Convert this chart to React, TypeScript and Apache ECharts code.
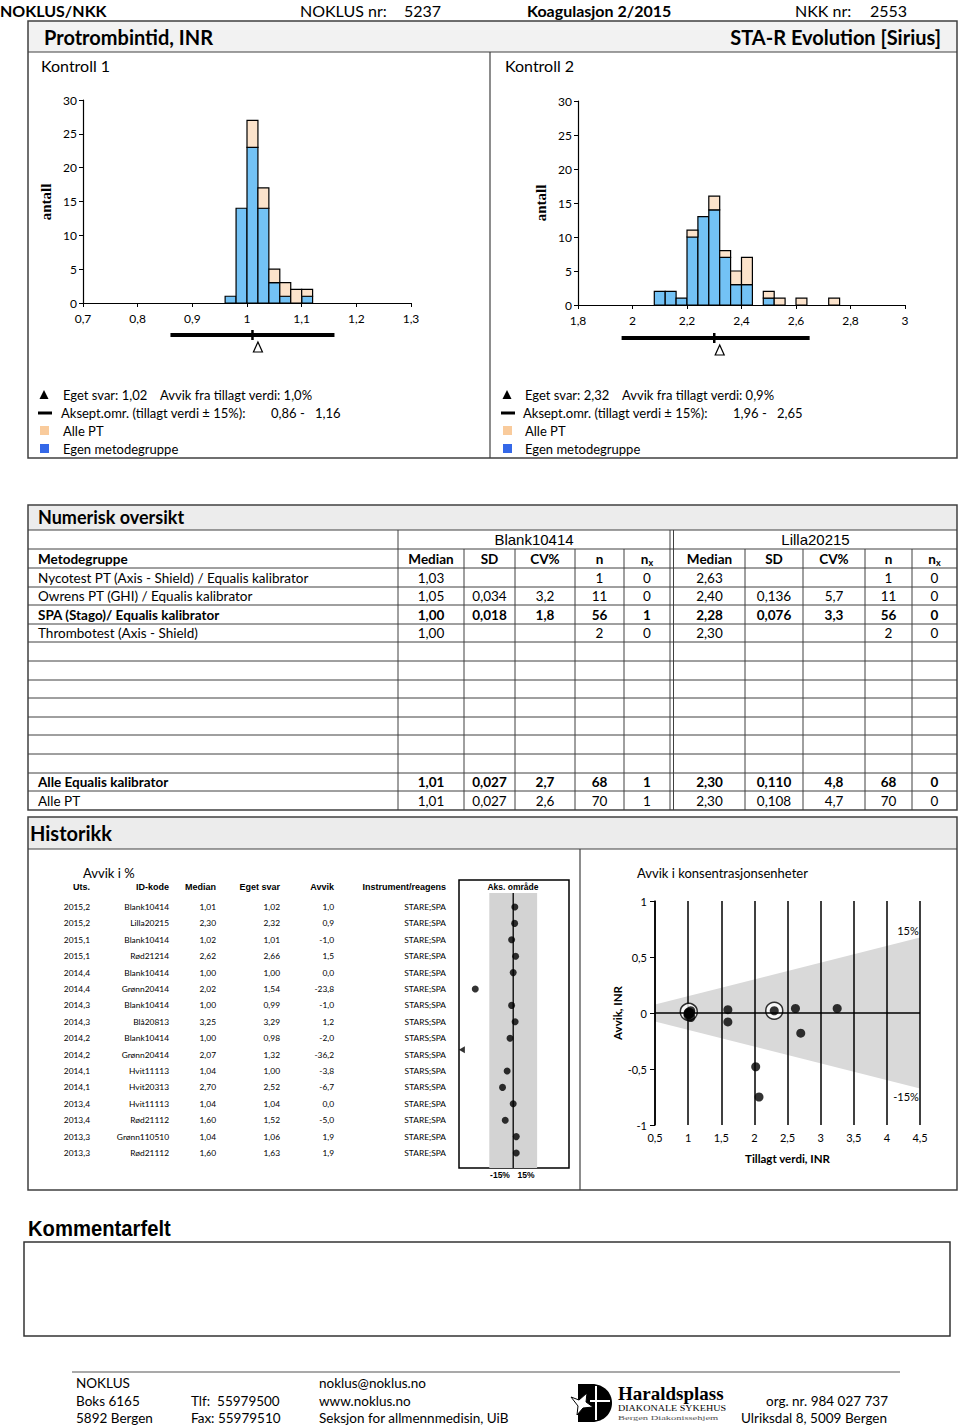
import React, { useEffect, useRef } from 'react';
import * as echarts from 'echarts';

const CAL = "Lato, 'Open Sans', sans-serif";
const ARIAL = "'Liberation Sans', Arial, sans-serif";
const SERIF = "'Liberation Serif', 'DejaVu Serif', serif";

// ---------- header ----------
const reportTitle = 'Protrombintid, INR';
const instrumentName = 'STA-R Evolution [Sirius]';
const controlNames = ['Kontroll 1', 'Kontroll 2'];

// ---------- histograms ----------
const hist1Start = [0.96, 0.98, 1.0, 1.02, 1.04, 1.06, 1.08, 1.1];
const hist1Width = 0.02;
const hist1Own = [1, 14, 23, 14, 3, 1, 0, 1];
const hist1All = [1, 14, 27, 17, 5, 3, 2, 2];
const hist2Start = [2.08, 2.12, 2.16, 2.2, 2.24, 2.28, 2.32, 2.36, 2.4, 2.48, 2.52, 2.6, 2.72];
const hist2Width = 0.04;
const hist2Own = [2, 2, 1, 10, 13, 14, 7, 3, 3, 1, 0, 0, 0];
const hist2All = [2, 2, 1, 11, 13, 16, 8, 5, 7, 2, 1, 1, 1];
const histXRange = [[0.7, 1.3, 0.1], [1.8, 3.0, 0.2]];
const ownResult = [1.02, 2.32];
const targetValue = [1.01, 2.3];
const accLow = [0.86, 1.96];
const accHigh = [1.16, 2.65];
const devPct = ['1,0', '0,9'];

// ---------- numeric table ----------
const materialNames = ['Blank10414', 'Lilla20215'];
const colHeaders = ['Median', 'SD', 'CV%', 'n', 'nx'];
const methodNames = [
  'Nycotest PT (Axis - Shield) / Equalis kalibrator',
  'Owrens PT (GHI) / Equalis kalibrator',
  'SPA (Stago)/ Equalis kalibrator',
  'Thrombotest (Axis - Shield)',
];
const methodBold = [false, false, true, false];
const k1Median = ['1,03', '1,05', '1,00', '1,00'];
const k1SD = ['', '0,034', '0,018', ''];
const k1CV = ['', '3,2', '1,8', ''];
const k1N = ['1', '11', '56', '2'];
const k1Nx = ['0', '0', '1', '0'];
const k2Median = ['2,63', '2,40', '2,28', '2,30'];
const k2SD = ['', '0,136', '0,076', ''];
const k2CV = ['', '5,7', '3,3', ''];
const k2N = ['1', '11', '56', '2'];
const k2Nx = ['0', '0', '0', '0'];
const summaryNames = ['Alle Equalis kalibrator', 'Alle PT'];
const summaryBold = [true, false];
const summaryValues = [
  ['1,01', '0,027', '2,7', '68', '1', '2,30', '0,110', '4,8', '68', '0'],
  ['1,01', '0,027', '2,6', '70', '1', '2,30', '0,108', '4,7', '70', '0'],
];

// ---------- history ----------
const histHeaders = ['Uts.', 'ID-kode', 'Median', 'Eget svar', 'Avvik', 'Instrument/reagens'];
const hUts = ['2015,2', '2015,2', '2015,1', '2015,1', '2014,4', '2014,4', '2014,3', '2014,3', '2014,2', '2014,2', '2014,1', '2014,1', '2013,4', '2013,4', '2013,3', '2013,3'];
const hId = ['Blank10414', 'Lilla20215', 'Blank10414', 'Rød21214', 'Blank10414', 'Grønn20414', 'Blank10414', 'Blå20813', 'Blank10414', 'Grønn20414', 'Hvit11113', 'Hvit20313', 'Hvit11113', 'Rød21112', 'Grønn110510', 'Rød21112'];
const hMedian = [1.01, 2.3, 1.02, 2.62, 1.0, 2.02, 1.0, 3.25, 1.0, 2.07, 1.04, 2.7, 1.04, 1.6, 1.04, 1.6];
const hOwn = [1.02, 2.32, 1.01, 2.66, 1.0, 1.54, 0.99, 3.29, 0.98, 1.32, 1.0, 2.52, 1.04, 1.52, 1.06, 1.63];
const hDev = [1.0, 0.9, -1.0, 1.5, 0.0, -23.8, -1.0, 1.2, -2.0, -36.2, -3.8, -6.7, 0.0, -5.0, 1.9, 1.9];
const hInstr = ['STARE;SPA', 'STARE;SPA', 'STARE;SPA', 'STARE;SPA', 'STARE;SPA', 'STARE;SPA', 'STARS;SPA', 'STARS;SPA', 'STARS;SPA', 'STARS;SPA', 'STARS;SPA', 'STARS;SPA', 'STARE;SPA', 'STARE;SPA', 'STARE;SPA', 'STARE;SPA'];
const currentRound = '2015,2';
const accPct = 15;

// ---------- footer ----------
const footerCol1 = ['NOKLUS', 'Boks 6165', '5892 Bergen'];
const footerCol2 = ['', 'Tlf:  55979500', 'Fax: 55979510'];
const footerCol3 = ['noklus@noklus.no', 'www.noklus.no', 'Seksjon for allmennmedisin, UiB'];
const footerCol4 = ['', 'org. nr. 984 027 737', 'Ulriksdal 8, 5009 Bergen'];

// ---------- styling ----------
const BLUE = '#73C2F5';
const BEIGE = '#FCE3CB';
const BORDER = '#404040';

echarts.graphic.registerShape(
  'hlogo',
  echarts.graphic.extendPath('M0 0 H14 C26 0 34 9 34 19 C34 29 26 38 14 38 H0 Z', {}) as any
);

const comma = (v: number) => String(Math.round(v * 100) / 100).replace('.', ',');
const fmt2 = (v: number) => v.toFixed(2).replace('.', ',');

function buildOption() {
  const G: any[] = [];
  const T = (x: number, y: number, text: string, size: number, o: any = {}) =>
    G.push({
      type: 'text',
      x,
      y,
      rotation: o.rotation || 0,
      scaleX: o.scaleX || 1,
      silent: true,
      z: 20,
      style: {
        text,
        fill: o.color || '#000',
        fontSize: size,
        fontFamily: o.family || CAL,
        fontWeight: o.bold ? 'bold' : 'normal',
        textAlign: o.align || 'left',
        textVerticalAlign: 'middle',
        rich: o.rich,
      },
    });
  const L = (x1: number, y1: number, x2: number, y2: number, w = 1, c = BORDER, z = 15) =>
    G.push({ type: 'line', silent: true, z, shape: { x1, y1, x2, y2 }, style: { stroke: c, lineWidth: w } });
  const R = (x: number, y: number, w: number, h: number, fill: any, stroke: any = null, lw = 0) =>
    G.push({ type: 'rect', silent: true, z: fill ? 1 : 15, shape: { x, y, width: w, height: h }, style: { fill: fill || 'none', stroke: stroke || 'none', lineWidth: lw } });

  // ---- top header row ----
  T(0, 10, 'NOKLUS/NKK', 16, { bold: true });
  T(300, 10, 'NOKLUS nr:', 16);
  T(404, 10, '5237', 16);
  T(527, 10, 'Koagulasjon 2/2015', 16, { bold: true });
  T(795, 10, 'NKK nr:', 16);
  T(870, 10, '2553', 16);

  // ---- main panel ----
  R(28, 21, 929, 31, '#f2f2f2');
  R(28, 21, 929, 437, null, BORDER, 1.5);
  L(28, 52, 957, 52, 1.2);
  L(490, 52, 490, 458, 1.2);
  T(44, 37, reportTitle, 20, { bold: true });
  T(941, 37, instrumentName, 20, { bold: true, align: 'right' });
  T(41, 65, controlNames[0], 16);
  T(505, 65, controlNames[1], 16);
  T(46, 202, 'antall', 15, { bold: true, family: SERIF, rotation: Math.PI / 2, align: 'center' });
  T(541, 203, 'antall', 15, { bold: true, family: SERIF, rotation: Math.PI / 2, align: 'center' });

  // legends
  [0, 1].forEach((k) => {
    const mx = k === 0 ? 44 : 507;
    const tx = k === 0 ? 63 : 525;
    G.push({ type: 'polygon', silent: true, z: 20, shape: { points: [[mx, 390], [mx - 4.5, 399], [mx + 4.5, 399]] }, style: { fill: '#000' } });
    R(mx - 6, 411.5, 14, 3, '#000');
    R(mx - 4, 426, 9, 9, '#F9CB9C');
    R(mx - 4, 444, 9, 9, '#3468E8');
    T(tx, 395, 'Eget svar: ' + fmt2(ownResult[k]), 13);
    T(tx + 97, 395, 'Avvik fra tillagt verdi: ' + devPct[k] + '%', 13);
    T(tx - 2, 413, 'Aksept.omr. (tillagt verdi ± ' + accPct + '%):', 13);
    T(tx + 208, 413, fmt2(accLow[k]) + ' -', 13);
    T(tx + 252, 413, fmt2(accHigh[k]), 13);
    T(tx, 431, 'Alle PT', 13);
    T(tx, 449, 'Egen metodegruppe', 13);
  });

  // ---- numeric overview ----
  R(28, 505, 929, 25, '#ececec');
  R(28, 505, 929, 305, null, BORDER, 1.5);
  T(38, 517, 'Numerisk oversikt', 18, { bold: true });
  const rowLines = [530, 549, 568, 587, 605, 624, 642, 661, 680, 698, 717, 735, 754, 773, 791];
  rowLines.forEach((y) => L(28, y, 957, y, 1));
  const cells = [
    [398, 464], [464, 515], [515, 575], [575, 624], [624, 670],
    [674, 745], [745, 803], [803, 865], [865, 912], [912, 957],
  ];
  [398, 670, 673.5].forEach((x) => L(x, 530, x, 810, 1));
  [464, 515, 575, 624, 745, 803, 865, 912].forEach((x) => L(x, 549, x, 810, 1));
  const mid = (i: number) => (rowLines[i] + (rowLines[i + 1] || 810)) / 2;
  T((398 + 670) / 2, mid(0), materialNames[0], 15, { align: 'center', family: ARIAL });
  T((674 + 957) / 2, mid(0), materialNames[1], 15, { align: 'center', family: ARIAL });
  T(38, mid(1), 'Metodegruppe', 13.5, { bold: true });
  cells.forEach((c, j) => {
    const h = colHeaders[j % 5];
    if (h === 'nx') {
      T((c[0] + c[1]) / 2, mid(1), '{a|n}{b|x}', 13.5, {
        align: 'center',
        rich: { a: { fontSize: 13.5, fontWeight: 'bold', fontFamily: CAL }, b: { fontSize: 9, fontWeight: 'bold', fontFamily: CAL, padding: [7, 0, 0, 0] } },
      });
    } else {
      T((c[0] + c[1]) / 2, mid(1), h, 13.5, { bold: true, align: 'center' });
    }
  });
  methodNames.forEach((name, i) => {
    const y = mid(2 + i);
    const b = methodBold[i];
    T(38, y, name, 13.5, { bold: b });
    const vals = [k1Median[i], k1SD[i], k1CV[i], k1N[i], k1Nx[i], k2Median[i], k2SD[i], k2CV[i], k2N[i], k2Nx[i]];
    vals.forEach((v, j) => T((cells[j][0] + cells[j][1]) / 2, y, v, 13.5, { bold: b, align: 'center' }));
  });
  summaryNames.forEach((name, i) => {
    const y = mid(13 + i);
    const b = summaryBold[i];
    T(38, y, name, 13.5, { bold: b });
    summaryValues[i].forEach((v, j) => T((cells[j][0] + cells[j][1]) / 2, y, v, 13.5, { bold: b, align: 'center' }));
  });

  // ---- history ----
  R(28, 817, 929, 32, '#ececec');
  R(28, 817, 929, 373, null, BORDER, 1.5);
  L(28, 849, 957, 849, 1.2);
  L(580, 849, 580, 1190, 1.2);
  T(30, 833, 'Historikk', 20, { bold: true });
  T(83, 873, 'Avvik i %', 13);
  T(637, 873, 'Avvik i konsentrasjonsenheter', 13);
  const hx = [90, 169, 216, 280, 334, 446];
  histHeaders.forEach((h, j) => T(hx[j], 887, h, 9, { bold: true, family: ARIAL, align: 'right' }));
  const rowY0 = 907;
  const rowStep = 16.4;
  hUts.forEach((u, i) => {
    const y = rowY0 + i * rowStep;
    const vals = [u, hId[i], fmt2(hMedian[i]), fmt2(hOwn[i]), hDev[i].toFixed(1).replace('.', ','), hInstr[i]];
    vals.forEach((v, j) => T(hx[j], y, v, 8.4, { align: 'right' }));
  });
  T(513, 887, 'Aks. område', 8.5, { bold: true, family: ARIAL, align: 'center' });
  T(500, 1175, '-' + accPct + '%', 8.5, { bold: true, family: ARIAL, align: 'center' });
  T(526, 1175, accPct + '%', 8.5, { bold: true, family: ARIAL, align: 'center' });
  T(908, 930, accPct + '%', 11, { align: 'center' });
  T(906, 1096, '-' + accPct + '%', 11, { align: 'center' });

  // ---- comment ----
  T(28, 1228, 'Kommentarfelt', 22, { bold: true, family: ARIAL, scaleX: 0.92 });
  R(24, 1242, 926, 94, null, '#333', 1.5);

  // ---- footer ----
  L(72, 1372, 900, 1372, 1.2, '#555');
  const fy = [1383, 1401, 1418];
  footerCol1.forEach((t, i) => T(76, fy[i], t, 13.5));
  footerCol2.forEach((t, i) => t && T(191, fy[i], t, 13.5));
  footerCol3.forEach((t, i) => T(319, fy[i], t, 13.5));
  footerCol4.forEach((t, i) => t && T(i === 1 ? 766 : 741, fy[i], t, 13.5));
  G.push({ type: 'hlogo', x: 578, y: 1384, silent: true, z: 20, style: { fill: '#000' } });
  L(596, 1386, 596, 1420, 2, '#fff', 21);
  L(590, 1401, 610, 1401, 2, '#fff', 21);
  G.push({
    type: 'polygon', silent: true, z: 22,
    shape: { points: [[571, 1397], [579, 1400], [587, 1393], [586, 1402], [593, 1407], [583, 1408], [577, 1415], [578, 1406]] },
    style: { fill: '#fff', stroke: '#000', lineWidth: 1 },
  });
  T(618, 1393, 'Haraldsplass', 19, { bold: true, family: SERIF });
  T(618, 1408, 'DIAKONALE SYKEHUS', 8, { family: SERIF, scaleX: 1.26 });
  T(618, 1418, 'Bergen Diakonissehjem', 7, { family: SERIF, color: '#555', scaleX: 1.5 });

  // ---------- chart series ----------
  const barRender = (fill: string) => (params: any, api: any) => {
    const x0 = api.value(0), x1 = api.value(1), lo = api.value(2), hi = api.value(3);
    if (!(hi > lo)) return { type: 'group', children: [] };
    const a = api.coord([x0, lo]);
    const b = api.coord([x1, hi]);
    return {
      type: 'rect',
      shape: { x: a[0], y: b[1], width: b[0] - a[0], height: a[1] - b[1] },
      style: { fill, stroke: '#000', lineWidth: 1.2 },
    };
  };
  const accRender = (off: number) => (params: any, api: any) => {
    const lo = api.coord([api.value(0), 0]);
    const hi = api.coord([api.value(1), 0]);
    const tg = api.coord([api.value(2), 0]);
    const ow = api.coord([api.value(3), 0]);
    const y = lo[1] + off;
    return {
      type: 'group',
      children: [
        { type: 'line', shape: { x1: lo[0], y1: y, x2: hi[0], y2: y }, style: { stroke: '#000', lineWidth: 4 } },
        { type: 'line', shape: { x1: tg[0], y1: y - 5, x2: tg[0], y2: y + 5 }, style: { stroke: '#000', lineWidth: 2.5 } },
        { type: 'polygon', shape: { points: [[ow[0], y + 7], [ow[0] - 4.5, y + 17], [ow[0] + 4.5, y + 17]] }, style: { fill: '#fff', stroke: '#000', lineWidth: 1.2 } },
      ],
    };
  };
  const histSeries = (k: number, starts: number[], w: number, own: number[], all: number[], off: number) => [
    {
      type: 'custom', name: 'Egen metodegruppe', xAxisIndex: k, yAxisIndex: k, renderItem: barRender(BLUE),
      encode: { x: [0, 1], y: [2, 3] }, data: starts.map((s, i) => [s, s + w, 0, own[i]]),
    },
    {
      type: 'custom', name: 'Alle PT', xAxisIndex: k, yAxisIndex: k, renderItem: barRender(BEIGE),
      encode: { x: [0, 1], y: [2, 3] }, data: starts.map((s, i) => [s, s + w, own[i], all[i]]),
    },
    {
      type: 'custom', name: 'Aksept', xAxisIndex: k, yAxisIndex: k, clip: false, renderItem: accRender(off),
      encode: { x: [0, 1, 2, 3] }, data: [[accLow[k], accHigh[k], targetValue[k], ownResult[k]]],
    },
  ];

  const axisLbl = { color: '#000', fontSize: 12, fontFamily: CAL };
  const histX = (k: number) => ({
    gridIndex: k, type: 'value', min: histXRange[k][0], max: histXRange[k][1], interval: histXRange[k][2],
    axisLine: { show: true, onZero: false, lineStyle: { color: '#000', width: 1.2 } },
    axisTick: { show: true, length: 4, lineStyle: { color: '#000' } },
    axisLabel: { ...axisLbl, margin: 9, formatter: comma },
    splitLine: { show: false },
  });
  const histY = (k: number) => ({
    gridIndex: k, type: 'value', min: 0, max: 30, interval: 5,
    axisLine: { show: true, onZero: false, lineStyle: { color: '#000', width: 1.2 } },
    axisTick: { show: true, length: 4, lineStyle: { color: '#000' } },
    axisLabel: { ...axisLbl, margin: 6 },
    splitLine: { show: false },
  });

  // dot plot geometry
  const dotTop = 880, dotH = 288, bandTopPx = 893;
  const yMin = (dotTop - rowY0) / rowStep;
  const yMax = (dotTop + dotH - rowY0) / rowStep;
  const bandTop = (bandTopPx - rowY0) / rowStep;
  const devMin = -34, devMax = 35;

  const current = hUts.map((u, i) => (u === currentRound ? i : -1)).filter((i) => i >= 0);
  const scatterPts = hMedian.map((m, i) => [m, Math.round((hOwn[i] - m) * 100) / 100]);

  return {
    animation: false,
    backgroundColor: '#fff',
    graphic: { elements: G },
    grid: [
      { left: 83, top: 100, width: 328, height: 203 },
      { left: 578, top: 101, width: 327, height: 204 },
      { left: 459, top: dotTop, width: 110, height: dotH, show: true, borderColor: '#000', borderWidth: 1.5, backgroundColor: 'rgba(0,0,0,0)' },
      { left: 655, top: 901, width: 265, height: 224 },
    ],
    xAxis: [
      histX(0),
      histX(1),
      { gridIndex: 2, type: 'value', min: devMin, max: devMax, show: false },
      {
        gridIndex: 3, type: 'value', min: 0.5, max: 4.5, interval: 0.5,
        axisLine: { show: false, onZero: false }, axisTick: { show: false },
        splitLine: { show: true, lineStyle: { color: '#000', width: 1.5 } },
        axisLabel: { color: '#000', fontSize: 11, fontFamily: CAL, margin: 7, formatter: comma },
        name: 'Tillagt verdi, INR', nameLocation: 'middle', nameGap: 27,
        nameTextStyle: { color: '#000', fontWeight: 'bold', fontSize: 11.5, fontFamily: CAL },
      },
    ],
    yAxis: [
      histY(0),
      histY(1),
      { gridIndex: 2, type: 'value', min: yMin, max: yMax, inverse: true, show: false },
      {
        gridIndex: 3, type: 'value', min: -1, max: 1, interval: 0.5,
        axisLine: { show: true, onZero: false, lineStyle: { color: '#000', width: 1.5 } },
        axisTick: { show: true, length: 5, lineStyle: { color: '#000' } },
        splitLine: { show: false },
        axisLabel: { color: '#000', fontSize: 11, fontFamily: CAL, margin: 8, formatter: comma },
        name: 'Avvik, INR', nameLocation: 'middle', nameGap: 25, nameRotate: 90,
        nameTextStyle: { color: '#000', fontWeight: 'bold', fontSize: 11.5, fontFamily: CAL },
      },
    ],
    series: [
      ...histSeries(0, hist1Start, hist1Width, hist1Own, hist1All, 32),
      ...histSeries(1, hist2Start, hist2Width, hist2Own, hist2All, 33),
      {
        type: 'line', xAxisIndex: 2, yAxisIndex: 2, symbol: 'none', silent: true,
        data: [[0, bandTop], [0, yMax]], lineStyle: { color: '#000', width: 1.3 },
        markArea: { silent: true, itemStyle: { color: '#d3d3d3' }, data: [[{ coord: [-accPct, bandTop] }, { coord: [accPct, yMax] }]] },
      },
      {
        type: 'scatter', xAxisIndex: 2, yAxisIndex: 2, symbolSize: 7, itemStyle: { color: '#000' },
        data: hDev.map((v, i) =>
          v < devMin ? { value: [devMin + 1.8, i - 0.3], symbol: 'triangle', symbolRotate: 90, symbolSize: [7, 6] } : { value: [v, i] }
        ),
      },
      {
        type: 'custom', xAxisIndex: 3, yAxisIndex: 3, z: -1, silent: true,
        encode: { x: [0, 1] },
        data: [[0.5, 4.5, accPct / 100]],
        renderItem: (params: any, api: any) => {
          const x0 = api.value(0), x1 = api.value(1), p = api.value(2);
          return {
            type: 'polygon',
            shape: { points: [api.coord([x0, p * x0]), api.coord([x1, p * x1]), api.coord([x1, -p * x1]), api.coord([x0, -p * x0])] },
            style: { fill: '#d9d9d9' },
          };
        },
      },
      {
        type: 'line', xAxisIndex: 3, yAxisIndex: 3, symbol: 'none', silent: true,
        data: [[0.5, 0], [4.5, 0]], lineStyle: { color: '#000', width: 1.5 },
      },
      {
        type: 'scatter', xAxisIndex: 3, yAxisIndex: 3, symbolSize: 17,
        itemStyle: { color: '#fff', borderColor: '#000', borderWidth: 1.5 },
        data: current.map((i) => scatterPts[i]),
      },
      {
        type: 'scatter', xAxisIndex: 3, yAxisIndex: 3, symbolSize: 9,
        itemStyle: { color: '#000' },
        data: scatterPts,
      },
    ],
  };
}

export default function App() {
  const ref = useRef<HTMLDivElement>(null);
  useEffect(() => {
    const chart = echarts.init(ref.current as HTMLDivElement, null, { renderer: 'svg' });
    chart.setOption(buildOption() as any);
    return () => chart.dispose();
  }, []);
  return <div ref={ref} style={{ position: 'absolute', left: 0, top: 0, width: 960, height: 1426, background: '#fff' }} />;
}
